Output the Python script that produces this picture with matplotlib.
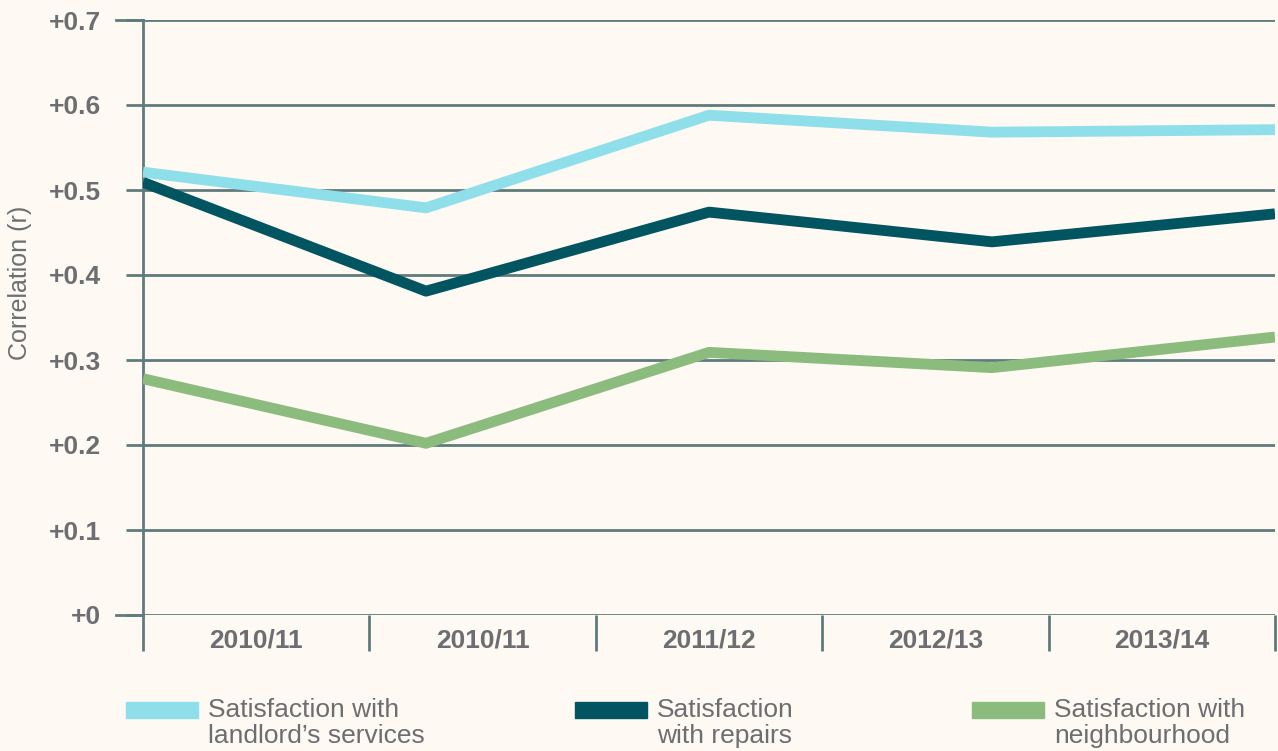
import matplotlib.pyplot as plt
from matplotlib.patches import Rectangle

plt.rcParams['font.family'] = ['Liberation Sans', 'DejaVu Sans']

years = ["2010/11", "2010/11", "2011/12", "2012/13", "2013/14"]
landlord = [0.521, 0.479, 0.588, 0.568, 0.571]
repairs = [0.509, 0.381, 0.474, 0.439, 0.472]
neighbourhood = [0.278, 0.202, 0.309, 0.291, 0.327]
yticks = [0, 0.1, 0.2, 0.3, 0.4, 0.5, 0.6, 0.7]
ytick_labels = ["+0", "+0.1", "+0.2", "+0.3", "+0.4", "+0.5", "+0.6", "+0.7"]

bg = "#fef9f2"
grid_c = "#5f7b7b"
text_c = "#6d6e71"
colors = ["#8fdfea", "#005560", "#8cbb7e"]
labels = ["Satisfaction with\nlandlord\u2019s services",
          "Satisfaction\nwith repairs",
          "Satisfaction with\nneighbourhood"]

fig = plt.figure(figsize=(12.78, 7.51), dpi=100, facecolor=bg)
ax = fig.add_axes([143/1278, 1-615/751, 1132/1278, 595/751], facecolor=bg)

# points spread across the full width, category labels sit in bands
n = len(years)
xs = [i * n / (n - 1) for i in range(n)]
for vals, c in zip([landlord, repairs, neighbourhood], colors):
    ax.plot(xs, vals, color=c, lw=7.8, solid_capstyle="butt", zorder=3)

ax.set_xlim(0, n)
ax.set_ylim(0, 0.7)

for y in yticks:
    ax.axhline(y, color=grid_c, lw=2, zorder=1)
# top and bottom gridlines reach a bit further left
for yy in [0, 1]:
    ax.plot([-27/1132, 0], [yy, yy], transform=ax.transAxes, color=grid_c, lw=2, clip_on=False)

for s in ["top", "right", "bottom"]:
    ax.spines[s].set_visible(False)
ax.spines["left"].set_color(grid_c)
ax.spines["left"].set_linewidth(2)

ax.set_yticks(yticks)
ax.set_yticklabels(ytick_labels, fontsize=19, fontweight="bold", color=text_c)
ax.tick_params(axis="y", length=12, width=2, color=grid_c, pad=18)

ax.set_xticks(range(n + 1))
ax.set_xticklabels([])
ax.tick_params(axis="x", which="major", length=26, width=2, color=grid_c)
ax.set_xticks([i + 0.5 for i in range(n)], minor=True)
ax.set_xticklabels(years, minor=True, fontsize=19, fontweight="bold", color=text_c)
ax.tick_params(axis="x", which="minor", length=0, pad=10)

fig.text(20/1278, 1-283/751, "Correlation (r)", rotation=90, ha="center", va="center",
         fontsize=18, color=text_c)

# legend
leg_x = [126, 575, 972]
for x, c, lab in zip(leg_x, colors, labels):
    fig.add_artist(Rectangle((x/1278, 1-718/751), 72/1278, 16/751,
                             transform=fig.transFigure, color=c))
    fig.text((x + 82)/1278, 1-698/751, lab, ha="left", va="top",
             fontsize=19, color=text_c, linespacing=1.12)

fig.savefig("out.png", dpi=100, facecolor=bg)
